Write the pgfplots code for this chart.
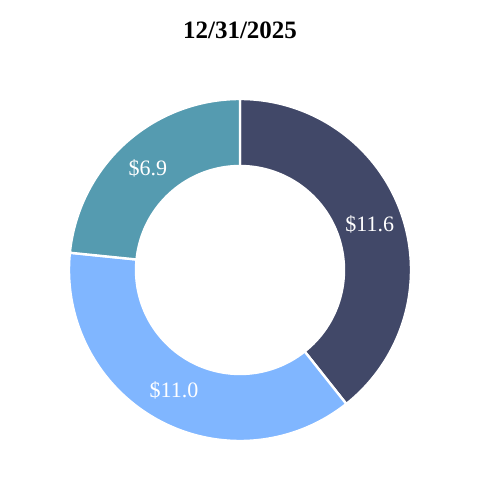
\documentclass[border=0pt]{standalone}
\usepackage{fontspec}
\setmainfont{Liberation Serif}
\usepackage{pgfplots}
\pgfplotsset{compat=1.18}
\definecolor{cNavy}{HTML}{414868}
\definecolor{cLight}{HTML}{80B6FF}
\definecolor{cTeal}{HTML}{559BB0}
\begin{document}
\begin{tikzpicture}
% values
\pgfmathsetmacro{\va}{11.6}
\pgfmathsetmacro{\vb}{11.0}
\pgfmathsetmacro{\vc}{6.9}
\pgfmathsetmacro{\tot}{\va+\vb+\vc}
\pgfmathsetmacro{\aA}{90}
\pgfmathsetmacro{\aB}{90-360*\va/\tot}
\pgfmathsetmacro{\aC}{\aB-360*\vb/\tot}
\pgfmathsetmacro{\aD}{\aC-360*\vc/\tot}
\pgfmathsetmacro{\mA}{(\aA+\aB)/2}
\pgfmathsetmacro{\mB}{(\aB+\aC)/2}
\pgfmathsetmacro{\mC}{(\aC+\aD)/2}
\def\R{171}
\def\r{104}
\def\cx{240}
\def\cy{210}
\begin{axis}[
  x=0.5pt, y=0.5pt,
  xmin=0, xmax=480, ymin=0, ymax=480,
  hide axis, clip=false,
]
\path (axis cs:0,0) rectangle (axis cs:480,480);
\addplot[fill=cNavy, draw=white, line width=1.2pt, domain=\aB:\aA, samples=120, variable=\t]
  ({\cx+\R*cos(\t)},{\cy+\R*sin(\t)}) -- (axis cs:\cx,\cy) -- cycle;
\addplot[fill=cLight, draw=white, line width=1.2pt, domain=\aC:\aB, samples=120, variable=\t]
  ({\cx+\R*cos(\t)},{\cy+\R*sin(\t)}) -- (axis cs:\cx,\cy) -- cycle;
\addplot[fill=cTeal, draw=white, line width=1.2pt, domain=\aD:\aC, samples=80, variable=\t]
  ({\cx+\R*cos(\t)},{\cy+\R*sin(\t)}) -- (axis cs:\cx,\cy) -- cycle;
\addplot[fill=white, draw=white, line width=1.2pt, domain=0:360, samples=200, variable=\t]
  ({\cx+\r*cos(\t)},{\cy+\r*sin(\t)}) -- cycle;
\def\rm{137.5}
\node[text=white, font=\fontsize{11}{13}\selectfont] at (axis cs:{\cx+\rm*cos(\mA)},{\cy+\rm*sin(\mA)}) {\$11.6};
\node[text=white, font=\fontsize{11}{13}\selectfont] at (axis cs:{\cx+\rm*cos(\mB)},{\cy+\rm*sin(\mB)}) {\$11.0};
\node[text=white, font=\fontsize{11}{13}\selectfont] at (axis cs:{\cx+\rm*cos(\mC)},{\cy+\rm*sin(\mC)}) {\$6.9};
\node[font=\bfseries\fontsize{12.5}{15}\selectfont] at (axis cs:240,450) {12/31/2025};
\end{axis}
\end{tikzpicture}
\end{document}
